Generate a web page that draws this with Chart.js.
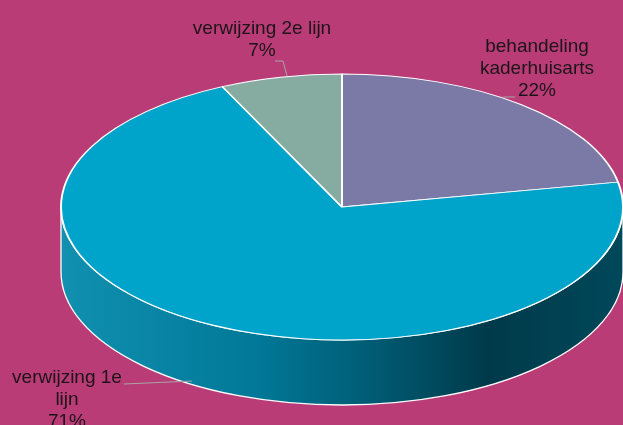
<!DOCTYPE html>
<html>
<head>
<meta charset="utf-8">
<script src="https://cdn.jsdelivr.net/npm/chart.js@4"></script>
<style>
  html, body { margin: 0; padding: 0; background: #b93c77; overflow: hidden; }
  #wrap { width: 623px; height: 425px; }
</style>
</head>
<body>
<div id="wrap"><canvas id="chart" width="623" height="425"></canvas></div>
<script>
const labels = ['behandeling kaderhuisarts', 'verwijzing 1e lijn', 'verwijzing 2e lijn'];
const values = [22, 71, 7];
const colors = ['#7b79a6', '#00a3c9', '#86aca2'];
// label text broken into lines like in the picture
const labelLines = [['behandeling', 'kaderhuisarts'], ['verwijzing 1e', 'lijn'], ['verwijzing 2e lijn']];

// where the flattened pie sits (top face ellipse) and how thick it is
const ellipse = { cx: 342, cy: 207, rx: 281, ry: 133, depth: 65 };
// baseline of the first line of each label
const labelPos = [{ x: 537, y: 52 }, { x: 67, y: 383 }, { x: 262, y: 34 }];
const lineGap = 22;
const leaders = [
    [[503, 97], [515, 97]],
    [[124, 384], [192, 381]],
    [[275, 61], [283, 61], [287, 76]]
];

const pie3d = {
    id: 'pie3d',
    beforeDatasetsDraw(chart) {
        const ctx = chart.ctx;
        const arc = chart.getDatasetMeta(0).data[0];
        const e = ellipse;

        // side wall of the cake
        ctx.save();
        const g = ctx.createLinearGradient(e.cx - e.rx, 0, e.cx + e.rx, 0);
        g.addColorStop(0, '#1190b0');
        g.addColorStop(0.35, '#017898');
        g.addColorStop(0.55, '#005c74');
        g.addColorStop(0.76, '#003a4a');
        g.addColorStop(1, '#00485a');
        ctx.beginPath();
        ctx.ellipse(e.cx, e.cy, e.rx, e.ry, 0, 0, Math.PI, false);
        ctx.lineTo(e.cx - e.rx, e.cy + e.depth);
        ctx.ellipse(e.cx, e.cy + e.depth, e.rx, e.ry, 0, Math.PI, 0, true);
        ctx.closePath();
        ctx.fillStyle = g;
        ctx.fill();
        ctx.strokeStyle = '#ffffff';
        ctx.lineWidth = 1.3;
        ctx.stroke();
        ctx.restore();

        // squash the round pie into the ellipse
        ctx.save();
        ctx.translate(e.cx, e.cy);
        ctx.scale(e.rx / arc.outerRadius, e.ry / arc.outerRadius);
        ctx.translate(-arc.x, -arc.y);
    },
    afterDatasetsDraw(chart) {
        const ctx = chart.ctx;
        ctx.restore();

        const total = values.reduce((a, b) => a + b, 0);

        // leader lines
        ctx.save();
        ctx.strokeStyle = '#a7a7a7';
        ctx.lineWidth = 1;
        leaders.forEach(pts => {
            ctx.beginPath();
            pts.forEach((p, i) => i ? ctx.lineTo(p[0], p[1]) : ctx.moveTo(p[0], p[1]));
            ctx.stroke();
        });

        // labels
        ctx.fillStyle = '#1c1418';
        ctx.font = '19px "Liberation Sans", Arial, sans-serif';
        ctx.textAlign = 'center';
        ctx.textBaseline = 'alphabetic';
        labelLines.forEach((lines, i) => {
            const pct = Math.round(values[i] / total * 100) + '%';
            lines.concat([pct]).forEach((t, j) => {
                ctx.fillText(t, labelPos[i].x, labelPos[i].y + j * lineGap);
            });
        });
        ctx.restore();
    }
};

new Chart(document.getElementById('chart'), {
    type: 'pie',
    data: {
        labels: labels,
        datasets: [{
            data: values,
            backgroundColor: colors,
            borderColor: '#ffffff',
            borderWidth: 1.4
        }]
    },
    options: {
        responsive: false,
        animation: false,
        rotation: 0,
        layout: { padding: 10 },
        plugins: {
            legend: { display: false },
            tooltip: { enabled: false }
        }
    },
    plugins: [pie3d]
});
</script>
</body>
</html>
